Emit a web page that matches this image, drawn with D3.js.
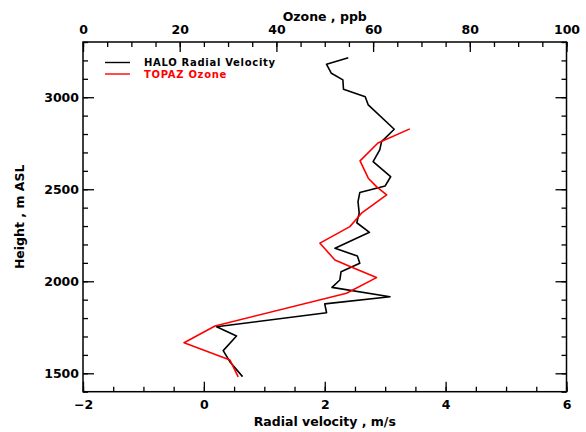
<!DOCTYPE html>
<html><head><meta charset="utf-8">
<script src="https://cdn.jsdelivr.net/npm/d3@7"></script>
<style>
html,body{margin:0;padding:0;background:#fff;}
text{font-family:"DejaVu Sans",sans-serif;font-weight:bold;}
</style></head>
<body><svg id="c" width="586" height="432"></svg>
<script>
// HALO radial velocity profile
const heightsV = [3215,3179,3130,3094,3043,3003,2958,2826,2759,2714,2650,2568,2518,2482,2433,2370,2318,2266,2179,2137,2098,2052,2007,1967,1916,1877,1829,1753,1703,1623,1563,1482];
const velocity = [2.39,2.03,2.11,2.30,2.31,2.67,2.72,3.15,2.94,2.91,2.80,3.09,3.00,2.58,2.55,2.57,2.53,2.74,2.17,2.54,2.58,2.27,2.25,2.12,3.08,2.00,2.03,0.21,0.54,0.32,0.43,0.64];
// TOPAZ ozone profile
const heightsO = [2828,2751,2654,2560,2514,2469,2370,2297,2207,2116,2076,2020,1935,1757,1666,1572,1481];
const ozone = [67.6,61.0,57.3,59.0,60.7,62.8,57.6,55.2,49.0,52.1,55.6,60.7,54.5,27.3,20.9,30.4,32.1];

const velTicks = [-2,0,2,4,6];
const ozTicks = [0,20,40,60,80,100];
const hTicks = [1500,2000,2500,3000];
const legendLabels = ["HALO Radial Velocity","TOPAZ Ozone"];
const colors = ["#000000","#ff0000"];

const L=83, R=566.5, T=42, B=391.7;
const svg = d3.select("#c");
const x = d3.scaleLinear().domain([-2,6]).range([L,R]);
const xo = d3.scaleLinear().domain([0,100]).range([L,R]);
const y = d3.scaleLinear().domain([1400,3300]).range([B,T]);

// frame
svg.append("rect").attr("x",L).attr("y",T).attr("width",R-L).attr("height",B-T)
  .attr("fill","none").attr("stroke","#000").attr("stroke-width",1.5);

function styleAxis(g){ g.select(".domain").remove(); g.selectAll("line").attr("stroke","#000").attr("stroke-width",1.3);
  g.selectAll("text").attr("fill","#000").style("font-size","12.5px").style("font-family","DejaVu Sans").style("font-weight","bold"); }

// bottom
svg.append("g").attr("transform",`translate(0,${B})`)
  .call(d3.axisTop(x).tickValues(d3.range(-2,6.01,0.5)).tickSize(5).tickFormat("")).call(styleAxis);
svg.append("g").attr("transform",`translate(0,${B})`)
  .call(d3.axisTop(x).tickValues(velTicks).tickSize(10).tickFormat("")).call(styleAxis);
svg.append("g").attr("transform",`translate(0,${B})`)
  .call(d3.axisBottom(x).tickValues(velTicks).tickSize(0).tickPadding(8).tickFormat(d=>d<0?"\u2212"+Math.abs(d):d)).call(styleAxis);
// top
svg.append("g").attr("transform",`translate(0,${T})`)
  .call(d3.axisBottom(xo).tickValues(d3.range(0,100.1,5)).tickSize(5).tickFormat("")).call(styleAxis);
svg.append("g").attr("transform",`translate(0,${T})`)
  .call(d3.axisBottom(xo).tickValues(ozTicks).tickSize(10).tickFormat("")).call(styleAxis);
svg.append("g").attr("transform",`translate(0,${T})`)
  .call(d3.axisTop(xo).tickValues(ozTicks).tickSize(0).tickPadding(8)).call(styleAxis);
// left
svg.append("g").attr("transform",`translate(${L},0)`)
  .call(d3.axisRight(y).tickValues(d3.range(1400,3300.1,100)).tickSize(5).tickFormat("")).call(styleAxis);
svg.append("g").attr("transform",`translate(${L},0)`)
  .call(d3.axisRight(y).tickValues(hTicks).tickSize(11).tickFormat("")).call(styleAxis);
svg.append("g").attr("transform",`translate(${L},0)`)
  .call(d3.axisLeft(y).tickValues(hTicks).tickSize(0).tickPadding(4).tickFormat(d3.format("d"))).call(styleAxis);
// right
svg.append("g").attr("transform",`translate(${R},0)`)
  .call(d3.axisLeft(y).tickValues(d3.range(1400,3300.1,100)).tickSize(5).tickFormat("")).call(styleAxis);
svg.append("g").attr("transform",`translate(${R},0)`)
  .call(d3.axisLeft(y).tickValues(hTicks).tickSize(11).tickFormat("")).call(styleAxis);

// titles
svg.append("text").attr("x",(L+R)/2).attr("y",426).attr("text-anchor","middle").style("font-size","12.5px").text("Radial velocity , m/s");
svg.append("text").attr("x",(L+R)/2).attr("y",21).attr("text-anchor","middle").style("font-size","12.5px").text("Ozone , ppb");
svg.append("text").attr("transform",`translate(24,${(T+B)/2}) rotate(-90)`).attr("text-anchor","middle").style("font-size","12.5px").text("Height , m ASL");

// lines
const lineV = d3.line().x((d,i)=>x(velocity[i])).y((d,i)=>y(heightsV[i]));
svg.append("path").attr("d",lineV(heightsV)).attr("fill","none").attr("stroke",colors[0]).attr("stroke-width",1.6).attr("stroke-linejoin","round");
const lineO = d3.line().x((d,i)=>xo(ozone[i])).y((d,i)=>y(heightsO[i]));
svg.append("path").attr("d",lineO(heightsO)).attr("fill","none").attr("stroke",colors[1]).attr("stroke-width",1.6).attr("stroke-linejoin","round");

// legend
legendLabels.forEach((lab,i)=>{
  const ly = 62.5 + i*11.5;
  svg.append("line").attr("x1",105).attr("x2",130).attr("y1",ly).attr("y2",ly).attr("stroke",colors[i]).attr("stroke-width",1.4);
  svg.append("text").attr("x",144).attr("y",ly+3.5).attr("fill",colors[i]).style("font-size","10px").style("letter-spacing","0.7px").text(lab);
});
</script></body></html>
